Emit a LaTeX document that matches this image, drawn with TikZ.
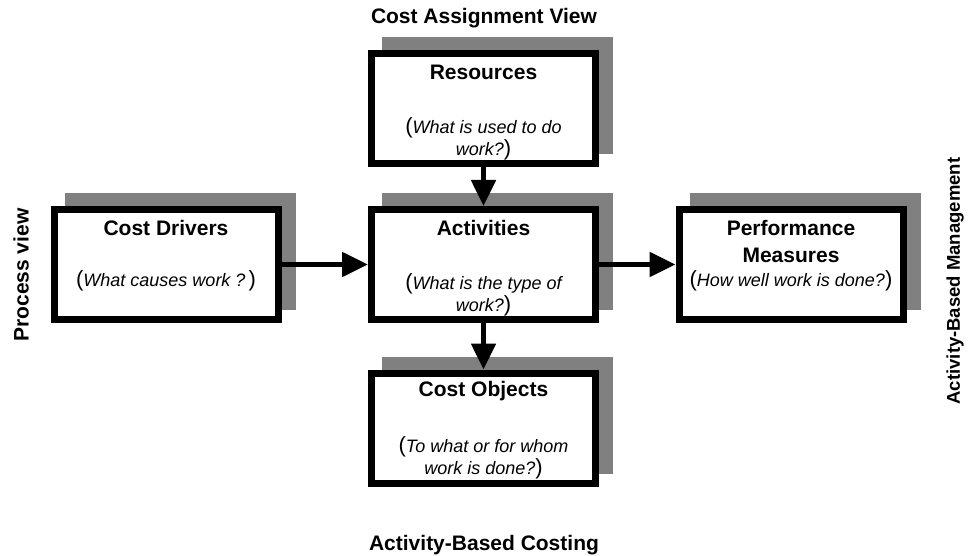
\documentclass[tikz,border=0pt]{standalone}
\usepackage{fontspec}
\setmainfont{Liberation Sans}
\usepackage{tikz}
\usetikzlibrary{arrows.meta,positioning,calc,shadows}

\newcommand{\openq}{{\upshape\fontsize{22}{22}\selectfont(}}
\newcommand{\closeq}{{\upshape\fontsize{22}{22}\selectfont)}}

\begin{document}
\begin{tikzpicture}[
  x=1pt, y=1pt,
  box/.style={draw=black, line width=7pt, fill=white, minimum width=224pt, minimum height=110pt,
    drop shadow={shadow xshift=14pt, shadow yshift=13pt, opacity=1, fill=gray, draw=gray, line width=7pt}},
  title/.style={font=\fontsize{21}{27}\selectfont\bfseries, align=center, inner sep=0pt},
  question/.style={font=\fontsize{18}{22}\selectfont\itshape, align=center, inner sep=0pt},
  view/.style={font=\fontsize{21}{25}\selectfont\bfseries, inner sep=0pt},
  arrow/.style={-{Triangle[length=26pt, width=24pt]}, line width=5pt},
]
\useasboundingbox (0,0) rectangle (972,-556);

% --- Centre column ---
\node[box] (res) at (483.5,-108.5) {};
\node[title] (resT) at ($(res.north)+(0,-22)$) {Resources};
\node[question] (resQ) at ($(res.north)+(0,-89)$) {\openq What is used to do\\work?\closeq};

\node[box] (act) at (483.5,-264.5) {};
\node[title] (actT) at ($(act.north)+(0,-22)$) {Activities};
\node[question] (actQ) at ($(act.north)+(0,-89)$) {\openq What is the type of\\work?\closeq};

\node[box] (obj) at (483.5,-428) {};
\node[title] (objT) at ($(obj.north)+(0,-22)$) {Cost Objects};
\node[question] (objQ) at ($(obj.north)+(0,-88)$) {\openq To what or for whom\\work is done?\closeq};

% --- Left: Cost Drivers ---
\node[box] (drv) at (166,-264.5) {};
\node[title] (drvT) at ($(drv.north)+(0,-22)$) {Cost Drivers};
\node[question] (drvQ) at ($(drv.north)+(0,-75)$) {\openq What causes work ?\,\closeq};

% --- Right: Performance Measures ---
\node[box] (perf) at (791,-264.5) {};
\node[title] (perfT) at ($(perf.north)+(0,-35)$) {Performance\\Measures};
\node[question] (perfQ) at ($(perf.north)+(0,-75)$) {\openq How well work is done?\closeq};

% --- Arrows ---
\draw[arrow] (res) -- (act);
\draw[arrow] (act) -- (obj);
\draw[arrow] (drv) -- (act);
\draw[arrow] (act) -- (perf);

% --- View labels ---
\node[view] (costview) at (484,-18) {Cost Assignment View};
\node[view] (abc) at (484,-545) {Activity-Based Costing};
\node[view, rotate=90] (procview) at (21,-275) {Process view};
\node[view, rotate=90, font=\fontsize{18.5}{22}\selectfont\bfseries] (abm) at (955,-281) {Activity-Based Management};

\end{tikzpicture}
\end{document}
